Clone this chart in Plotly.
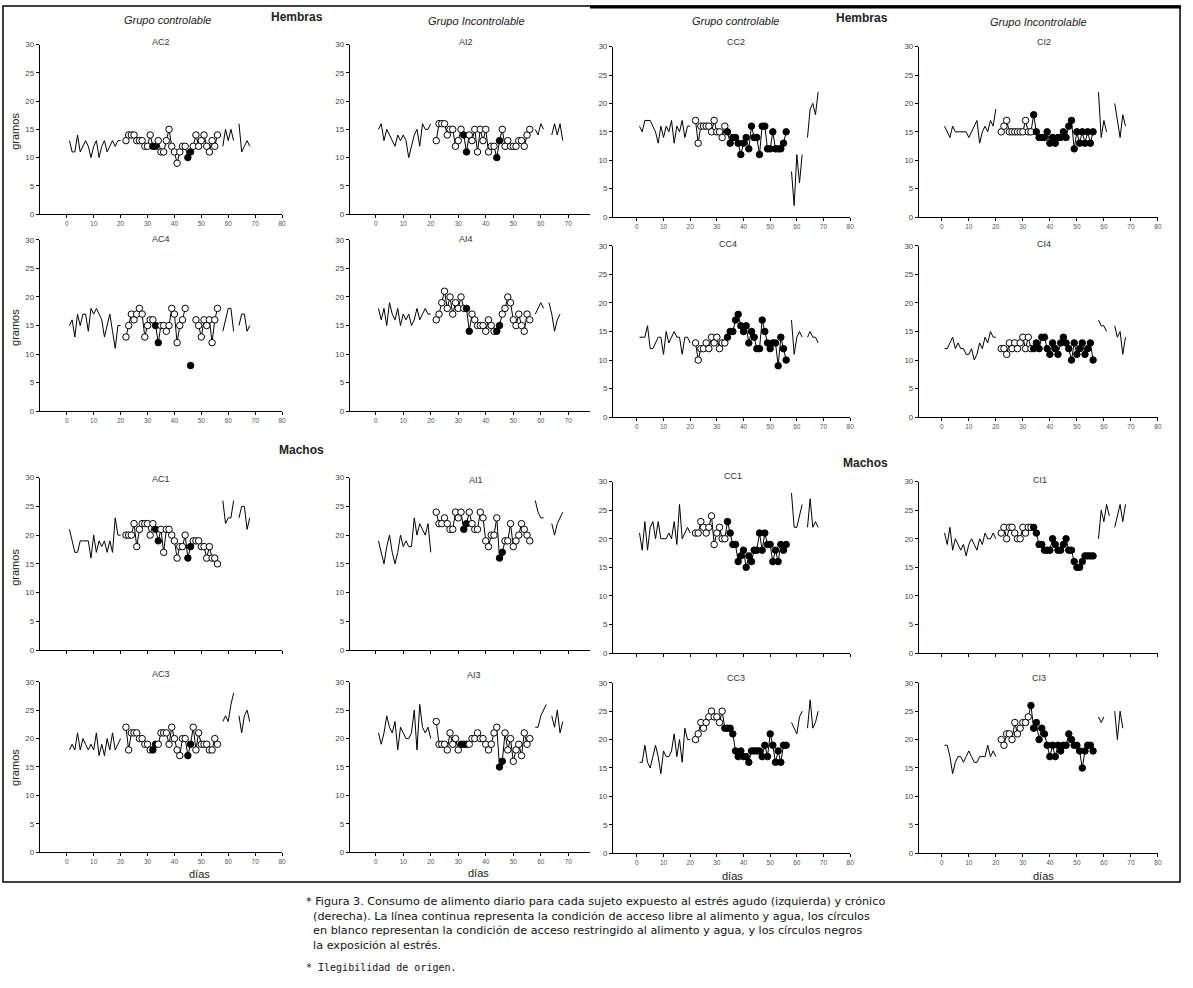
import plotly.graph_objects as go

# ---------------- data (gramos por día) ----------------
DAYS_PRE = list(range(1, 21))
DAYS_REST = list(range(22, 57))
DAYS_POST = list(range(58, 69))

AC2_PRE = [13,11,11,14,11,12,13,12,10,12,13,10,12,13,11,12,13,12,13,13]
AC2_REST = [13,14,14,14,13,13,13,12,12,14,12,12,13,11,11,13,15,12,11,9,11,12,12,10,11,12,14,12,13,14,12,11,13,12,14]
AC2_STRESS = [32,33,45,46]
AC2_POST = [12,15,13,15,13,None,16,11,12,13,12]

AI2_PRE = [15,16,13,15,14,13,12,14,13,14,13,10,12,14,15,12,16,15,15,16]
AI2_REST = [13,16,16,16,14,15,15,12,13,15,14,11,14,13,15,11,15,13,15,11,12,12,10,13,15,12,13,12,12,12,13,13,12,14,15]
AI2_STRESS = [32,33,44,45]
AI2_POST = [15,14,16,15,None,None,14,16,14,16,13]

CC2_PRE = [16,15,17,17,17,16,15,13,16,14,16,15,17,13,16,15,17,14,16,16]
CC2_REST = [17,13,16,16,16,16,15,17,15,15,14,16,
            15,13,14,14,13,11,13,14,12,16,14,14,11,16,16,12,12,15,12,12,12,13,15]
CC2_STRESS = list(range(34, 57))
CC2_POST = [8,2,11,6,11,None,14,19,20,18,22]

CI2_PRE = [16,15,14,16,15,15,15,15,15,14,15,16,17,13,15,16,15,17,16,19]
CI2_REST = [15,16,17,15,15,15,15,15,15,17,15,15,
            18,15,14,14,14,15,13,14,13,14,14,15,14,16,17,12,15,13,15,13,15,13,15]
CI2_STRESS = list(range(34, 57))
CI2_POST = [22,14,17,15,None,None,20,17,14,18,16]

AC4_PRE = [15,16,13,17,15,17,17,14,18,17,18,17,16,13,15,17,14,11,15,15]
AC4_REST = [13,15,17,16,17,18,17,13,15,16,16,15,12,15,15,14,15,18,17,12,15,16,18,None,8,None,16,15,13,16,15,16,12,16,18]
AC4_STRESS = [33,34,46]
AC4_POST = [14,16,18,18,14,None,15,17,17,14,15]

AI4_PRE = [18,16,18,15,19,17,16,18,15,17,16,17,15,16,18,16,17,18,17,17]
AI4_REST = [16,17,19,21,18,20,17,19,18,20,18,18,14,17,16,15,15,15,14,16,15,14,14,15,17,18,20,19,16,15,17,15,14,17,16]
AI4_STRESS = [33,34,44,45]
AI4_POST = [17,18,19,18,None,19,17,14,16,17,None]

CC4_PRE = [14,14,14,16,12,12,13,14,14,11,15,13,14,15,14,14,11,14,14,13]
CC4_REST = [13,10,12,12,13,12,14,13,14,12,13,13,
            14,15,15,17,18,16,15,16,13,15,14,12,12,17,15,13,12,13,13,9,14,12,10]
CC4_STRESS = list(range(34, 57))
CC4_POST = [17,11,14,15,14,None,14,15,14,14,13]

CI4_PRE = [12,12,13,14,12,13,12,12,11,11,12,10,11,13,12,14,13,15,14,14]
CI4_REST = [12,12,11,13,12,13,12,13,14,12,14,12,
            12,13,12,14,14,12,11,13,12,11,13,14,13,12,10,13,11,12,13,11,12,13,10]
CI4_STRESS = list(range(34, 57))
CI4_POST = [17,16,16,15,None,None,16,14,15,11,14]

AC1_PRE = [21,19,17,17,19,19,19,19,16,20,17,19,18,19,17,19,17,23,20,20]
AC1_REST = [20,20,20,22,18,21,22,22,22,20,22,21,19,21,17,21,21,20,19,16,18,18,20,16,18,19,19,19,18,18,16,18,16,16,15]
AC1_STRESS = [33,34,45,46]
AC1_POST = [26,22,23,23,26,None,23,25,25,21,23]

AI1_PRE = [19,17,15,18,20,17,15,17,20,18,19,18,18,23,20,22,21,20,22,17]
AI1_REST = [24,22,22,23,22,21,21,24,23,24,21,22,24,22,21,21,24,23,19,18,20,20,23,16,17,19,19,22,18,19,20,22,21,20,19]
AI1_STRESS = [32,33,45,46]
AI1_POST = [26,24,23,23,None,None,22,20,22,23,24]

CC1_PRE = [21,18,23,18,22,23,20,23,20,20,20,21,20,23,19,26,20,21,22,21]
CC1_REST = [21,21,23,22,21,22,24,19,21,22,20,20,
            23,21,19,19,16,17,18,15,17,16,18,18,21,18,21,19,19,16,18,16,19,18,19]
CC1_STRESS = list(range(34, 57))
CC1_POST = [28,22,22,24,26,None,22,27,22,23,22]

CI1_PRE = [21,19,22,18,20,19,18,19,17,19,20,19,18,20,19,21,20,20,21,20]
CI1_REST = [21,22,20,22,22,21,20,20,22,21,22,22,
            22,21,19,19,18,18,18,20,19,18,18,19,20,18,18,16,15,15,16,17,17,17,17]
CI1_STRESS = list(range(34, 57))
CI1_POST = [20,25,23,26,24,None,22,24,26,23,26]

AC3_PRE = [18,19,18,21,18,20,19,18,19,18,21,17,19,17,20,18,21,18,19,20]
AC3_REST = [22,18,21,21,21,20,20,19,19,18,18,19,19,21,21,21,19,22,20,18,17,20,20,17,19,22,18,21,19,19,19,18,18,20,19]
AC3_STRESS = [32,33,45,46]
AC3_POST = [23,24,23,26,28,None,24,21,24,25,23]

AI3_PRE = [21,19,21,24,22,21,23,18,22,21,20,20,21,25,18,26,22,21,22,20]
AI3_REST = [23,19,19,19,18,21,19,20,18,19,19,19,19,20,20,21,20,20,19,18,19,21,22,15,16,21,18,20,16,18,19,17,21,19,20]
AI3_STRESS = [31,32,33,45,46]
AI3_POST = [22,22,24,25,26,None,24,22,25,21,23]

CC3_PRE = [16,16,19,16,15,17,19,17,14,18,17,17,18,21,17,20,16,22,20,20]
CC3_REST = [20,21,23,22,23,24,25,24,24,23,25,
            22,22,22,21,18,17,18,17,17,16,18,18,18,18,17,19,17,21,19,16,18,16,19,19]
CC3_STRESS = list(range(33, 57))
CC3_POST = [23,22,21,24,25,None,22,27,22,23,25]

CI3_PRE = [19,19,17,14,16,17,17,16,17,18,17,16,16,17,17,17,19,17,18,17]
CI3_REST = [20,19,21,21,20,23,21,22,23,23,24,
            26,22,23,20,22,21,19,17,19,17,19,18,19,19,21,20,19,19,18,15,18,19,19,18]
CI3_STRESS = list(range(33, 57))
CI3_POST = [24,23,24,None,None,None,25,20,25,22,None]

PANEL_GRID = [["AC2", "AI2", "CC2", "CI2"],
              ["AC4", "AI4", "CC4", "CI4"],
              ["AC1", "AI1", "CC1", "CI1"],
              ["AC3", "AI3", "CC3", "CI3"]]

DATA = {
    "AC2": (AC2_PRE, AC2_REST, AC2_STRESS, AC2_POST),
    "AI2": (AI2_PRE, AI2_REST, AI2_STRESS, AI2_POST),
    "CC2": (CC2_PRE, CC2_REST, CC2_STRESS, CC2_POST),
    "CI2": (CI2_PRE, CI2_REST, CI2_STRESS, CI2_POST),
    "AC4": (AC4_PRE, AC4_REST, AC4_STRESS, AC4_POST),
    "AI4": (AI4_PRE, AI4_REST, AI4_STRESS, AI4_POST),
    "CC4": (CC4_PRE, CC4_REST, CC4_STRESS, CC4_POST),
    "CI4": (CI4_PRE, CI4_REST, CI4_STRESS, CI4_POST),
    "AC1": (AC1_PRE, AC1_REST, AC1_STRESS, AC1_POST),
    "AI1": (AI1_PRE, AI1_REST, AI1_STRESS, AI1_POST),
    "CC1": (CC1_PRE, CC1_REST, CC1_STRESS, CC1_POST),
    "CI1": (CI1_PRE, CI1_REST, CI1_STRESS, CI1_POST),
    "AC3": (AC3_PRE, AC3_REST, AC3_STRESS, AC3_POST),
    "AI3": (AI3_PRE, AI3_REST, AI3_STRESS, AI3_POST),
    "CC3": (CC3_PRE, CC3_REST, CC3_STRESS, CC3_POST),
    "CI3": (CI3_PRE, CI3_REST, CI3_STRESS, CI3_POST),
}

X_TICKS = [0, 10, 20, 30, 40, 50, 60, 70, 80]
Y_TICKS = [0, 5, 10, 15, 20, 25, 30]

# ---------------- layout geometry (pixels) ----------------
W, H = 1193, 988
def fx(px): return px / W
def fy(py): return 1 - py / H

# column: (y-axis pixel, pixel of day 0, pixels per day, right end pixel)
COLS = [(40, 67, 2.70, 283), (351, 377, 2.76, 592),
        (615, 639, 2.675, 853), (922, 945, 2.71, 1162)]
ROWS_L = [(41, 212), (238, 411), (478, 652), (684, 856)]
ROWS_R = [(43, 215), (244, 417), (482, 655), (685, 857)]

FONT = "Liberation Sans"
fig = go.Figure()
layout = {}

n = 0
for r, row in enumerate(PANEL_GRID):
    for c, name in enumerate(row):
        n += 1
        ax = "" if n == 1 else str(n)
        a, p0, k, b = COLS[c]
        top, bot = (ROWS_L if c < 2 else ROWS_R)[r]
        pre, rest, stress, post = DATA[name]
        colors = ["black" if d in stress else "white" for d in DAYS_REST]
        fig.add_trace(go.Scatter(x=DAYS_PRE, y=pre, mode="lines",
                                 line=dict(color="black", width=1),
                                 xaxis="x" + ax, yaxis="y" + ax, showlegend=False))
        fig.add_trace(go.Scatter(x=DAYS_REST, y=rest, mode="lines+markers",
                                 line=dict(color="black", width=1),
                                 marker=dict(size=6.5, color=colors, symbol="circle",
                                             line=dict(color="black", width=1)),
                                 connectgaps=False,
                                 xaxis="x" + ax, yaxis="y" + ax, showlegend=False))
        fig.add_trace(go.Scatter(x=DAYS_POST, y=post, mode="lines",
                                 line=dict(color="black", width=1), connectgaps=False,
                                 xaxis="x" + ax, yaxis="y" + ax, showlegend=False))
        layout["xaxis" + ax] = dict(
            domain=[fx(a), fx(b)], range=[(a - p0) / k, (b - p0) / k],
            anchor="y" + ax, tickvals=X_TICKS, showticklabels=(r != 2),
            ticks="outside", ticklen=3, tickcolor="black", showline=True,
            linecolor="black", linewidth=1, showgrid=False, zeroline=False,
            tickfont=dict(family=FONT, size=6.5, color="#555"), fixedrange=True)
        layout["yaxis" + ax] = dict(
            domain=[fy(bot), fy(top)], range=[0, 30], anchor="x" + ax,
            tickvals=Y_TICKS, ticks="outside", ticklen=3, tickcolor="black",
            showline=True, linecolor="black", linewidth=1, showgrid=False,
            zeroline=False, tickfont=dict(family=FONT, size=8, color="#444"),
            fixedrange=True)

annotations = []
def txt(px, py, s, size=10, color="#222", anchor="center", angle=0, family=FONT,
        yanchor="middle"):
    annotations.append(dict(x=fx(px), y=fy(py), xref="paper", yref="paper", text=s,
                            showarrow=False, xanchor=anchor, yanchor=yanchor, align="left",
                            textangle=angle, font=dict(family=family, size=size, color=color)))

# headers
txt(168, 16, "<i>Grupo controlable</i>", 11)
txt(298, 13, "<b>Hembras</b>", 12)
txt(478, 17, "<i>Grupo Incontrolable</i>", 11)
txt(738, 17, "<i>Grupo controlable</i>", 11)
txt(865, 14, "<b>Hembras</b>", 12)
txt(1042, 18, "<i>Grupo Incontrolable</i>", 11)
txt(303, 450, "<b>Machos</b>", 12)
txt(868, 463, "<b>Machos</b>", 12)

# panel names
PANEL_LABEL_POS = {
    "AC2": (162, 38), "AI2": (468, 38), "CC2": (738, 38), "CI2": (1048, 38),
    "AC4": (162, 237), "AI4": (468, 237), "CC4": (730, 242), "CI4": (1048, 242),
    "AC1": (162, 479), "AI1": (478, 480), "CC1": (735, 476), "CI1": (1043, 480),
    "AC3": (162, 676), "AI3": (476, 677), "CC3": (738, 680), "CI3": (1042, 680),
}
for name, (px, py) in PANEL_LABEL_POS.items():
    txt(px, py, name, 9, "#333")

# y titles
for py in (128, 326, 568, 770):
    txt(15, py, "gramos", 11, "#222", angle=-90)
# x titles
for px, py in ((200, 878), (480, 877), (735, 880), (1047, 880)):
    txt(px, py, "días", 11, "#222")

# caption
CAP = ["* Figura 3. Consumo de alimento diario para cada sujeto expuesto al estrés agudo (izquierda) y crónico",
       "&nbsp;&nbsp;(derecha). La línea continua representa la condición de acceso libre al alimento y agua, los círculos",
       "&nbsp;&nbsp;en blanco representan la condición de acceso restringido al alimento y agua, y los círculos negros",
       "&nbsp;&nbsp;la exposición al estrés."]
txt(305, 897, "<br>".join(CAP), 11.2, "#111", anchor="left", family="DejaVu Sans",
    yanchor="top")
txt(305, 972, "*&nbsp;Ilegibilidad de origen.", 10, "#111", anchor="left",
    family="DejaVu Sans Mono")

shapes = [
    dict(type="rect", xref="paper", yref="paper", x0=fx(3), x1=fx(1184), y0=fy(886), y1=fy(2),
         line=dict(color="black", width=1.5)),
    dict(type="line", xref="paper", yref="paper", x0=fx(592), x1=fx(1185), y0=fy(3), y1=fy(3),
         line=dict(color="black", width=3)),
]

fig.update_layout(width=W, height=H, margin=dict(l=0, r=0, t=0, b=0),
                  paper_bgcolor="white", plot_bgcolor="white",
                  annotations=annotations, shapes=shapes, **layout)
fig.write_html("out.html", config={"displayModeBar": False},
               post_script="document.body.style.margin='0';document.body.style.padding='0';")
